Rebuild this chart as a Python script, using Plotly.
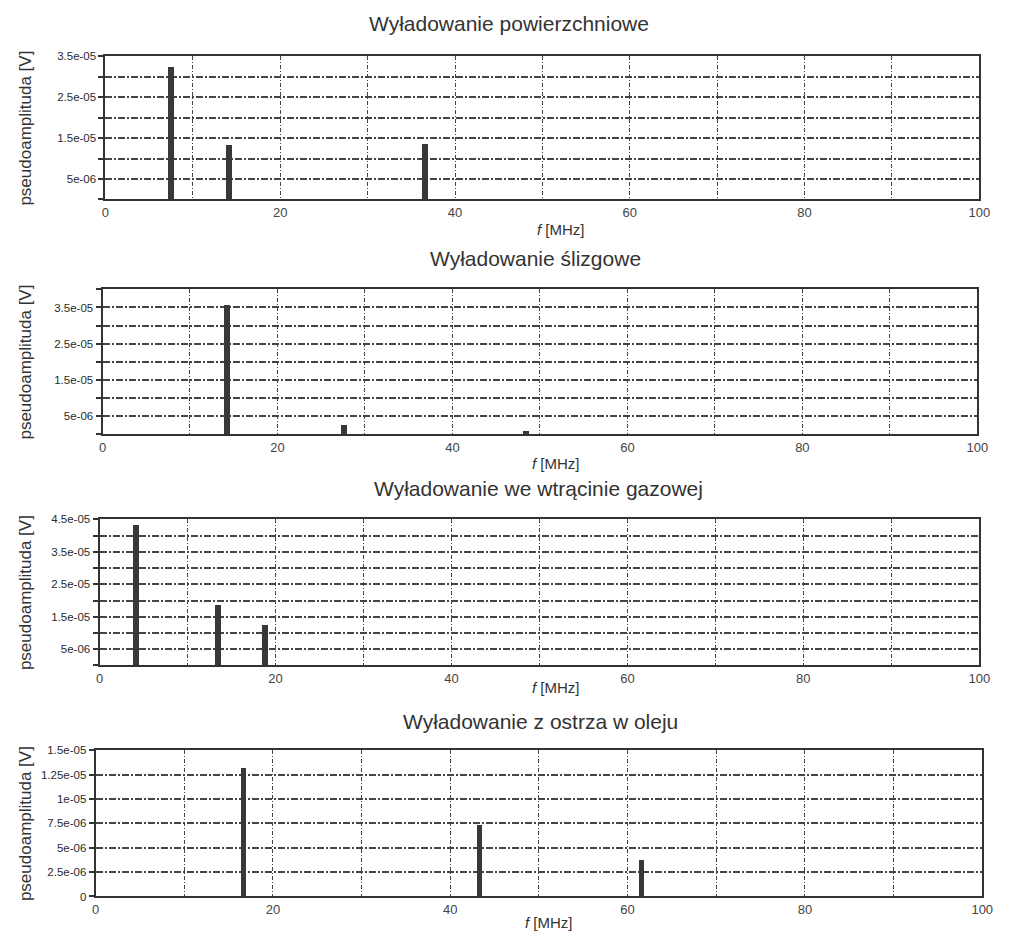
import plotly.graph_objects as go

# Spectral lines of four partial-discharge types
titles = [
    "Wyładowanie powierzchniowe",
    "Wyładowanie ślizgowe",
    "Wyładowanie we wtrącinie gazowej",
    "Wyładowanie z ostrza w oleju",
]

freq_surface = [7.5, 14.2, 36.6]
amp_surface = [3.22e-05, 1.33e-05, 1.35e-05]

freq_creeping = [14.2, 27.5, 48.3]
amp_creeping = [3.57e-05, 2.4e-06, 8e-07]

freq_void = [4.1, 13.4, 18.7]
amp_void = [4.33e-05, 1.86e-05, 1.24e-05]

freq_corona = [16.6, 43.3, 61.5]
amp_corona = [1.32e-05, 7.3e-06, 3.7e-06]

x_tickvals = [0, 20, 40, 60, 80, 100]
x_ticktext = ["0", "20", "40", "60", "80", "100"]

y_ranges = [3.5e-05, 4.0e-05, 4.5e-05, 1.5e-05]
y_tickvals = [
    [5e-06, 1.5e-05, 2.5e-05, 3.5e-05],
    [5e-06, 1.5e-05, 2.5e-05, 3.5e-05],
    [5e-06, 1.5e-05, 2.5e-05, 3.5e-05, 4.5e-05],
    [0, 2.5e-06, 5e-06, 7.5e-06, 1e-05, 1.25e-05, 1.5e-05],
]
y_ticktext = [
    ["5e-06", "1.5e-05", "2.5e-05", "3.5e-05"],
    ["5e-06", "1.5e-05", "2.5e-05", "3.5e-05"],
    ["5e-06", "1.5e-05", "2.5e-05", "3.5e-05", "4.5e-05"],
    ["0", "2.5e-06", "5e-06", "7.5e-06", "1e-05", "1.25e-05", "1.5e-05"],
]
y_minor_step = [5e-06, 5e-06, 5e-06, None]

series = [
    (freq_surface, amp_surface),
    (freq_creeping, amp_creeping),
    (freq_void, amp_void),
    (freq_corona, amp_corona),
]

W, H = 1010, 939
# plot-area boxes in pixels: left, right, top, bottom
boxes = [
    (103, 990, 51, 196),
    (100, 988, 287, 434),
    (97, 990, 520, 668),
    (93, 993, 754, 902),
]
bar_widths = [0.68, 0.68, 0.68, 0.55]
title_pos = [(513, 18), (540, 256), (543, 489), (545, 725)]
xlabel_pos = [(565, 226), (560, 463), (560, 690), (553, 928)]

INK = "#333333"
GRID = "#444444"
FONT = "Liberation Sans, Arial, sans-serif"
DASH_Y = "7px,2px,2px,2px"
DASH_X = "4px,2px,1px,2px"

fig = go.Figure()
annotations = []
for i, ((fx, fy), box) in enumerate(zip(series, boxes)):
    n = "" if i == 0 else str(i + 1)
    left, right, top, bottom = box
    fig.add_trace(go.Bar(
        x=fx, y=fy, width=bar_widths[i],
        marker=dict(color="#383838", line=dict(width=0)),
        xaxis="x" + n, yaxis="y" + n, showlegend=False,
    ))
    xdom = [left / W, right / W]
    ydom = [1 - bottom / H, 1 - top / H]
    xa = dict(
        domain=xdom, range=[0, 100], anchor="y" + n,
        tickvals=x_tickvals, ticktext=x_ticktext,
        showline=True, mirror=True, linecolor=INK, linewidth=2,
        showgrid=True, gridcolor=GRID, gridwidth=1, griddash=DASH_X,
        ticks="", tickfont=dict(size=13, color="#444", family=FONT),
        minor=dict(dtick=10, tick0=0, showgrid=True, gridcolor=GRID,
                   gridwidth=1, griddash=DASH_X),
        zeroline=False, fixedrange=True,
    )
    ya = dict(
        domain=ydom, range=[0, y_ranges[i]], anchor="x" + n,
        tickvals=y_tickvals[i], ticktext=y_ticktext[i],
        showline=True, mirror=True, linecolor=INK, linewidth=2,
        showgrid=True, gridcolor=GRID, gridwidth=1.6, griddash=DASH_Y,
        ticks="outside", ticklen=5, tickcolor=INK, tickwidth=1.5,
        tickfont=dict(size=11.5, color="#2a2a2a", family=FONT),
        zeroline=False, fixedrange=True,
    )
    if y_minor_step[i]:
        ya["minor"] = dict(dtick=y_minor_step[i], tick0=0, showgrid=True,
                           gridcolor=GRID, gridwidth=1.6, griddash=DASH_Y,
                           ticks="outside", ticklen=5, tickcolor=INK)
    fig.update_layout({"xaxis" + n: xa, "yaxis" + n: ya})

    tx, ty = title_pos[i]
    annotations.append(dict(
        text=titles[i], x=tx / W, y=1 - ty / H, xref="paper", yref="paper",
        showarrow=False, xanchor="center", yanchor="middle",
        font=dict(size=21, color="#333", family=FONT),
    ))
    lx, ly = xlabel_pos[i]
    annotations.append(dict(
        text="<i>f</i> [MHz]", x=lx / W, y=1 - ly / H, xref="paper", yref="paper",
        showarrow=False, xanchor="center", yanchor="middle",
        font=dict(size=15, color="#333", family=FONT),
    ))
    annotations.append(dict(
        text="pseudoamplituda [V]", x=22 / W, y=1 - (top + bottom) / 2 / H,
        xref="paper", yref="paper", showarrow=False, textangle=-90,
        xanchor="center", yanchor="middle",
        font=dict(size=17, color="#333", family=FONT),
    ))

fig.update_layout(
    width=W, height=H,
    margin=dict(l=0, r=0, t=0, b=0),
    paper_bgcolor="white", plot_bgcolor="white",
    bargap=0, annotations=annotations,
    font=dict(family=FONT),
)

fig.write_html("out.html")
